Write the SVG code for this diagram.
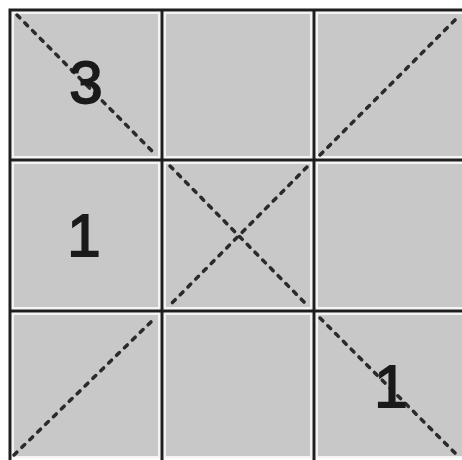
<svg xmlns="http://www.w3.org/2000/svg" width="462" height="460" viewBox="0 0 462 460">
<style>
.cell{fill:#c8c8c8;stroke:#f4f4f4;stroke-width:2}
.grid{stroke:#1e1e1e;stroke-width:3;fill:none}
.diag{stroke:#2a2a2a;stroke-width:3.5;stroke-dasharray:4 7;stroke-linecap:round;fill:none}
.num{font-family:"Liberation Sans",Arial,sans-serif;font-size:60px;fill:#1a1a1a;stroke:#1a1a1a;stroke-width:1.8;text-anchor:middle}
</style>
<rect width="462" height="460" fill="#ffffff"/>
<g id="cells">
<rect class="cell" x="13" y="13" width="146" height="144"/>
<rect class="cell" x="165" y="13" width="146" height="144"/>
<rect class="cell" x="317" y="13" width="147" height="144"/>
<rect class="cell" x="13" y="163" width="146" height="145"/>
<rect class="cell" x="165" y="163" width="146" height="145"/>
<rect class="cell" x="317" y="163" width="147" height="145"/>
<rect class="cell" x="13" y="314" width="146" height="143"/>
<rect class="cell" x="165" y="314" width="146" height="143"/>
<rect class="cell" x="317" y="314" width="147" height="143"/>
</g>
<g id="grid">
<path class="grid" d="M10 10 H462 M10 160 H462 M10 311 H462 M10 8.5 V460 M162 10 V460 M314 10 V460"/>
</g>
<g id="connectors">
<line class="diag" x1="17" y1="15" x2="155" y2="154"/>
<line class="diag" x1="320" y1="155" x2="460" y2="15"/>
<line class="diag" x1="170" y1="166" x2="307" y2="305"/>
<line class="diag" x1="307" y1="167" x2="170" y2="305"/>
<line class="diag" x1="14" y1="455" x2="155" y2="318"/>
<line class="diag" x1="320" y1="318" x2="460" y2="458"/>
</g>
<g id="n3"><text class="num" x="86" y="103">3</text></g>
<g id="n1a"><text class="num" x="84" y="256">1</text></g>
<g id="n1b"><text class="num" x="391" y="407">1</text></g>
</svg>
